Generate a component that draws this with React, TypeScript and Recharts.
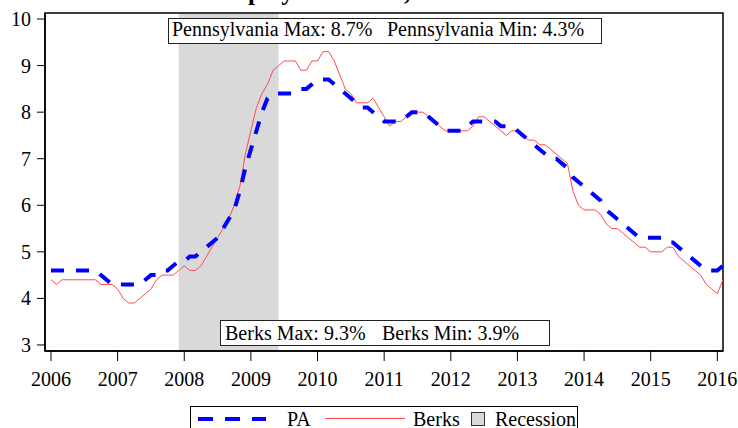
import { LineChart, Line, XAxis, YAxis, ReferenceArea } from 'recharts';

// monthly unemployment rate, Jan 2006 - Feb 2016
const paRate = [
  4.6, 4.6, 4.6, 4.6, 4.6, 4.6, 4.6, 4.6, 4.6, 4.5, 4.4, 4.3, // 2006
  4.3, 4.3, 4.3, 4.3, 4.3, 4.4, 4.5, 4.5, 4.6, 4.6, 4.7, 4.8, // 2007
  4.8, 4.9, 4.9, 5.0, 5.1, 5.2, 5.3, 5.5, 5.7, 5.9, 6.3, 6.8, // 2008
  7.2, 7.6, 8.0, 8.3, 8.4, 8.4, 8.4, 8.4, 8.4, 8.5, 8.5, 8.6, // 2009
  8.7, 8.7, 8.7, 8.6, 8.5, 8.4, 8.3, 8.2, 8.1, 8.1, 8.0, 7.9, // 2010
  7.8, 7.8, 7.8, 7.8, 7.9, 8.0, 8.0, 8.0, 7.9, 7.8, 7.7, 7.6, // 2011
  7.6, 7.6, 7.6, 7.7, 7.8, 7.8, 7.8, 7.8, 7.8, 7.7, 7.7, 7.7, // 2012
  7.6, 7.5, 7.4, 7.3, 7.2, 7.1, 7.0, 7.0, 6.9, 6.8, 6.6, 6.5, // 2013
  6.4, 6.3, 6.2, 6.1, 5.9, 5.8, 5.7, 5.6, 5.5, 5.4, 5.3, 5.3, // 2014
  5.3, 5.3, 5.3, 5.2, 5.2, 5.1, 5.0, 4.9, 4.8, 4.7, 4.6, 4.6, // 2015
  4.6, 4.7, // 2016
];

const berksRate = [
  4.4, 4.3, 4.4, 4.4, 4.4, 4.4, 4.4, 4.4, 4.4, 4.3, 4.3, 4.3, // 2006
  4.2, 4.0, 3.9, 3.9, 4.0, 4.1, 4.2, 4.4, 4.5, 4.5, 4.5, 4.6, // 2007
  4.7, 4.6, 4.6, 4.7, 4.9, 5.1, 5.3, 5.5, 5.7, 6.0, 6.4, 7.1, // 2008
  7.6, 8.1, 8.4, 8.6, 8.9, 9.0, 9.1, 9.1, 9.1, 8.9, 8.9, 9.1, // 2009
  9.1, 9.3, 9.3, 9.1, 8.8, 8.5, 8.4, 8.2, 8.2, 8.2, 8.3, 8.1, // 2010
  7.9, 7.7, 7.8, 7.8, 7.9, 8.0, 8.0, 8.0, 7.9, 7.8, 7.7, 7.6, // 2011
  7.6, 7.6, 7.6, 7.6, 7.7, 7.9, 7.9, 7.8, 7.7, 7.6, 7.5, 7.6, // 2012
  7.6, 7.5, 7.4, 7.4, 7.3, 7.3, 7.2, 7.1, 7.0, 6.9, 6.3, 6.0, // 2013
  5.9, 5.9, 5.9, 5.8, 5.6, 5.5, 5.5, 5.4, 5.3, 5.2, 5.1, 5.1, // 2014
  5.0, 5.0, 5.0, 5.1, 5.1, 4.9, 4.8, 4.7, 4.6, 4.5, 4.3, 4.2, // 2015
  4.1, 4.4, // 2016
];

const yearTicks = [2006, 2007, 2008, 2009, 2010, 2011, 2012, 2013, 2014, 2015, 2016];
const rateTicks = [3, 4, 5, 6, 7, 8, 9, 10];

// Dec 2007 - Jun 2009
const recessionStart = 2007 + 11 / 12;
const recessionEnd = 2009 + 5 / 12;

const X_MIN = 2005.91;
const X_MAX = 2016.085;
const Y_MIN = 2.87;
const Y_MAX = 10.13;

const FONT = '"Liberation Serif", "Times New Roman", serif';

const data = paRate.map((v, i) => ({
  t: 2006 + i / 12,
  pa: v,
  berks: berksRate[i],
}));

const boxStyle: React.CSSProperties = {
  position: 'absolute',
  background: '#fff',
  border: '1px solid #222',
  boxSizing: 'border-box',
  fontSize: 20,
  color: '#000',
};

export default function App() {
  return (
    <div
      style={{
        position: 'absolute',
        left: 0,
        top: 0,
        width: 738,
        height: 428,
        overflow: 'hidden',
        background: '#fff',
        fontFamily: FONT,
      }}
    >
      {/* title, cut off at the top of the picture like in the original */}
      <div
        style={{
          position: 'absolute',
          left: 184,
          top: -21,
          fontSize: 25,
          lineHeight: '25px',
          fontWeight: 'bold',
          whiteSpace: 'nowrap',
        }}
      >
        Unemployment Rate, 2006-2016
      </div>

      <LineChart
        width={738}
        height={428}
        data={data}
        margin={{ top: 13, right: 15, left: 0, bottom: 0 }}
      >
        <ReferenceArea
          x1={recessionStart}
          x2={recessionEnd}
          y1={Y_MIN}
          y2={Y_MAX}
          fill="#d9d9d9"
          fillOpacity={1}
          stroke="none"
        />
        <XAxis
          type="number"
          dataKey="t"
          domain={[X_MIN, X_MAX]}
          ticks={yearTicks}
          allowDataOverflow
          height={77}
          tickSize={10}
          tickMargin={11}
          axisLine={{ stroke: '#000', strokeWidth: 1.5 }}
          tickLine={{ stroke: '#000', strokeWidth: 1 }}
          tick={{ fontSize: 20, fontFamily: FONT, fill: '#000' }}
        />
        <YAxis
          type="number"
          domain={[Y_MIN, Y_MAX]}
          ticks={rateTicks}
          allowDataOverflow
          width={45}
          tickSize={8}
          tickMargin={6}
          axisLine={{ stroke: '#000', strokeWidth: 1.5 }}
          tickLine={{ stroke: '#000', strokeWidth: 1 }}
          tick={{ fontSize: 20, fontFamily: FONT, fill: '#000' }}
        />
        <ReferenceArea
          x1={X_MIN}
          x2={X_MAX}
          y1={Y_MIN}
          y2={Y_MAX}
          fill="none"
          stroke="#000"
          strokeWidth={1.5}
        />
        <Line
          type="linear"
          dataKey="berks"
          stroke="#ff4b4b"
          strokeWidth={1}
          dot={false}
          isAnimationActive={false}
        />
        <Line
          type="linear"
          dataKey="pa"
          stroke="#0000ff"
          strokeWidth={4}
          strokeDasharray="13 12"
          dot={false}
          isAnimationActive={false}
        />
      </LineChart>

      {/* max / min notes */}
      <div style={{ ...boxStyle, left: 168, top: 18, width: 434, height: 26, lineHeight: '21px' }}>
        <span style={{ position: 'absolute', left: 3 }}>Pennsylvania Max: 8.7%</span>
        <span style={{ position: 'absolute', left: 218 }}>Pennsylvania Min: 4.3%</span>
      </div>
      <div style={{ ...boxStyle, left: 220, top: 320, width: 330, height: 26, lineHeight: '24px' }}>
        <span style={{ position: 'absolute', left: 4 }}>Berks Max: 9.3%</span>
        <span style={{ position: 'absolute', left: 161 }}>Berks Min: 3.9%</span>
      </div>

      {/* legend, its lower edge runs past the picture */}
      <div style={{ ...boxStyle, left: 190, top: 406, width: 388, height: 40, border: '1px solid #000' }}>
        <svg width={386} height={38} style={{ position: 'absolute', left: 0, top: 0 }}>
          <line x1={7} y1={12} x2={75} y2={12} stroke="#0000ff" strokeWidth={4} strokeDasharray="15 12" />
          <line x1={134} y1={11.5} x2={214} y2={11.5} stroke="#ff4b4b" strokeWidth={1} />
          <rect x={280.5} y={5.5} width={13} height={13} fill="#d9d9d9" stroke="#333" strokeWidth={1} />
        </svg>
        <span style={{ position: 'absolute', left: 96, top: 2, lineHeight: '20px' }}>PA</span>
        <span style={{ position: 'absolute', left: 222, top: 2, lineHeight: '20px' }}>Berks</span>
        <span style={{ position: 'absolute', left: 304, top: 2, lineHeight: '20px' }}>Recession</span>
      </div>
    </div>
  );
}
